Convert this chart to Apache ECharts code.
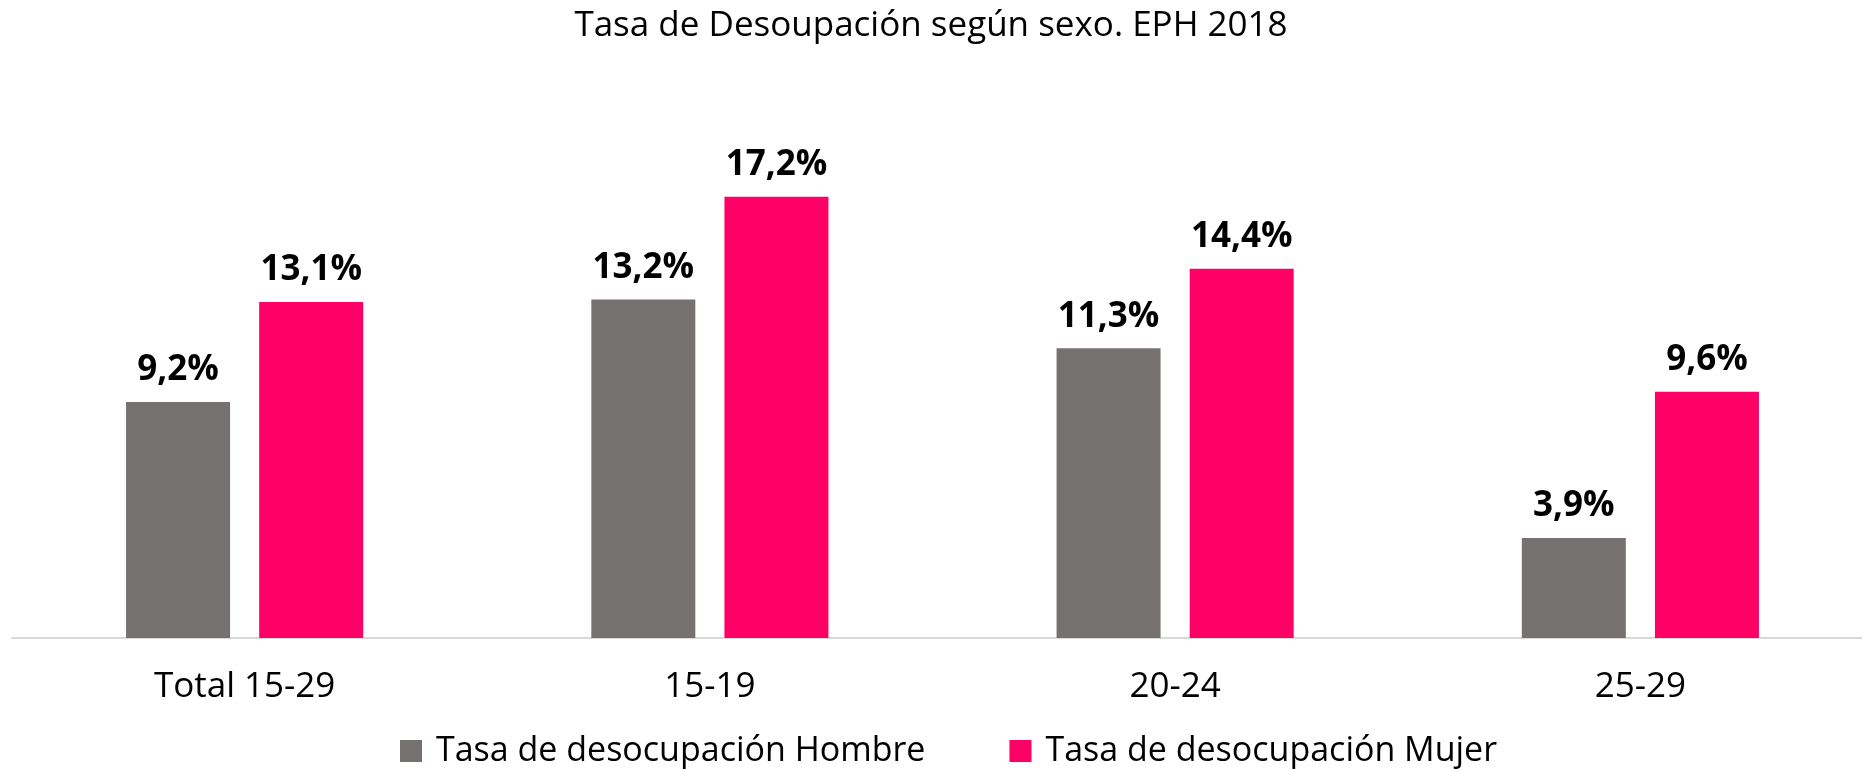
<!DOCTYPE html>
<html>
<head>
<meta charset="utf-8">
<script src="https://cdn.jsdelivr.net/npm/echarts@6/dist/echarts.min.js"></script>
<style>
  html, body { margin: 0; padding: 0; background: #fff; }
  #chart { width: 1862px; height: 771px; }
</style>
</head>
<body>
<div id="chart"></div>
<script>
  // datos
  const categorias = ['Total 15-29', '15-19', '20-24', '25-29'];
  const hombre = [9.2, 13.2, 11.3, 3.9];
  const mujer = [13.1, 17.2, 14.4, 9.6];
  const nombres = ['Tasa de desocupación Hombre', 'Tasa de desocupación Mujer'];

  const fuente = '"Open Sans", sans-serif';
  const chart = echarts.init(document.getElementById('chart'));

  const etiqueta = {
    show: true,
    position: 'top',
    distance: 14,
    color: '#000',
    fontWeight: 'bold',
    fontSize: 35,
    fontFamily: fuente,
    formatter: p => p.value.toFixed(1).replace('.', ',') + '%'
  };

  const option = {
    animation: false,
    title: {
      text: 'Tasa de Desoupación según sexo. EPH 2018',
      left: 'center',
      top: 4,
      textStyle: { fontSize: 35, fontWeight: 'normal', color: '#000', fontFamily: fuente }
    },
    legend: {
      top: 729,
      left: 395,
      itemWidth: 22,
      itemHeight: 22,
      itemGap: 84,
      icon: 'rect',
      textStyle: { fontSize: 34, color: '#000', fontFamily: fuente, padding: [0, 0, 0, 9] },
      data: nombres
    },
    // el eje llega hasta el borde derecho, la grilla sobresale un poco
    grid: { left: 12, right: -11, top: 125, bottom: 133, outerBoundsMode: 'none' },
    xAxis: {
      type: 'category',
      data: categorias,
      axisLine: { lineStyle: { color: '#D9D9D9', width: 2 } },
      axisTick: { show: false },
      axisLabel: { fontSize: 35, color: '#000', margin: 32, fontFamily: fuente }
    },
    yAxis: {
      type: 'value',
      min: 0,
      max: 20,
      show: false,
      splitLine: { show: false }
    },
    series: [
      {
        name: nombres[0],
        type: 'bar',
        data: hombre,
        barWidth: 104,
        barGap: '28%',
        itemStyle: { color: '#767171' },
        label: etiqueta
      },
      {
        name: nombres[1],
        type: 'bar',
        data: mujer,
        barWidth: 104,
        itemStyle: { color: '#FF0066' },
        label: etiqueta
      }
    ]
  };

  chart.setOption(option);
</script>
</body>
</html>
